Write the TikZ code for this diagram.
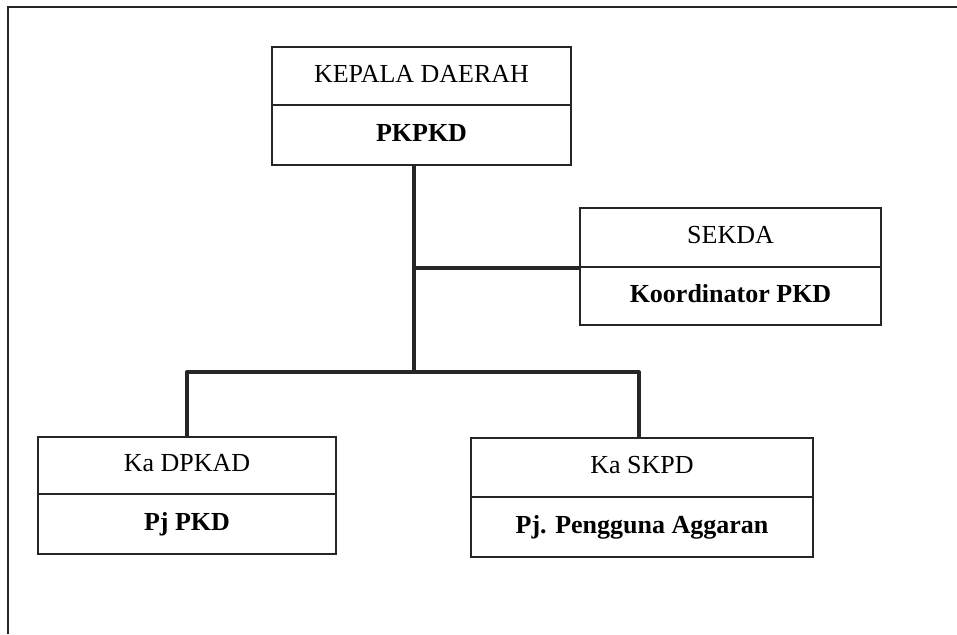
\documentclass[tikz,border=0pt]{standalone}
\usepackage{fontspec}
\setmainfont{Liberation Serif}
\begin{document}
\begin{tikzpicture}[x=1pt,y=-1pt,
  cell/.style={draw=black!85, line width=1.6pt, inner sep=0pt,
    text height=18pt, text depth=6pt,
    font=\fontsize{26}{30}\selectfont},
  head/.style={cell},
  role/.style={cell, font=\fontsize{26}{30}\selectfont\bfseries},
  conn/.style={draw=black!85, line width=4pt, line join=round},
  frame/.style={draw=black!85, line width=2pt}]
  \useasboundingbox[fill=white] (0,0) rectangle (957,634);

  % outer frame (top and left edges)
  \coordinate (fbl) at (7.5,634);
  \coordinate (ftl) at (7.5,7.5);
  \coordinate (ftr) at (957,7.5);
  \draw[frame] (fbl) -- (ftl) -- (ftr);

  % Kepala Daerah
  \node[head, minimum width=299pt, minimum height=58pt] (ka) at (421.5,76) {KEPALA DAERAH};
  \node[role, minimum width=299pt, minimum height=60pt] (kb) at (421.5,135) {PKPKD};

  % Sekda
  \node[head, minimum width=301pt, minimum height=59pt] (sa) at (730.5,237.5) {SEKDA};
  \node[role, minimum width=301pt, minimum height=58pt] (sb) at (730.5,296) {Koordinator PKD};

  % Ka DPKAD
  \node[head, minimum width=298pt, minimum height=57pt] (da) at (187,465.5) {Ka DPKAD};
  \node[role, minimum width=298pt, minimum height=60pt] (db) at (187,524) {Pj PKD};

  % Ka SKPD
  \node[head, minimum width=342pt, minimum height=59pt] (pa) at (642,467.5) {Ka SKPD};
  \node[role, minimum width=342pt, minimum height=60pt] (pb) at (642,527) {Pj. Pengguna Aggaran};

  % junctions on the main trunk
  \coordinate (trunk) at (414,372);
  \coordinate (tee) at (trunk |- sa.south);

  % connectors
  \draw[conn] (trunk |- kb.south) -- (trunk);
  \draw[conn] (tee) -- (sa.south west);
  \draw[conn] (da.north) |- (trunk) -| ([xshift=-3pt]pa.north);
\end{tikzpicture}
\end{document}
